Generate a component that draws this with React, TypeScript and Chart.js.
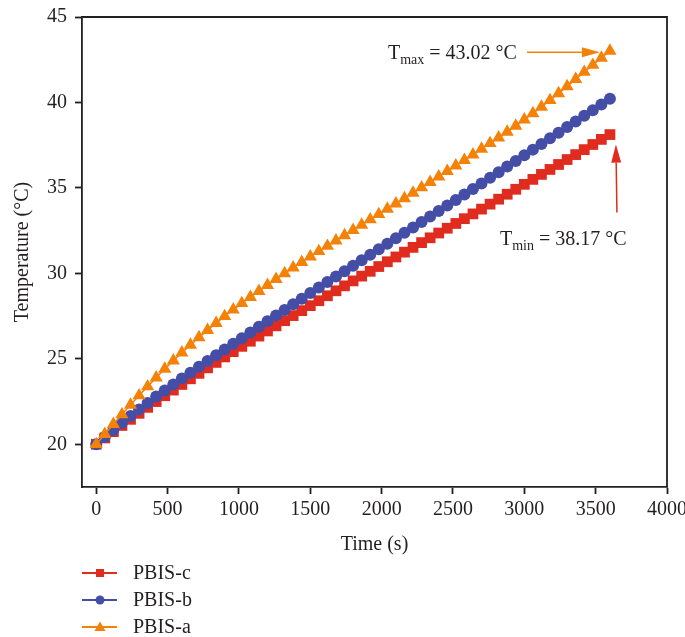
import React, { useEffect, useRef } from "react";
import { Chart, registerables } from "chart.js";

Chart.register(...registerables);

// ---------------- data ----------------
const TIME_S = [
  0, 60, 120, 180, 240, 300, 360, 420, 480, 540, 600, 660, 720, 780, 840, 900, 960, 1020, 1080, 1140,
  1200, 1260, 1320, 1380, 1440, 1500, 1560, 1620, 1680, 1740, 1800, 1860, 1920, 1980, 2040, 2100, 2160,
  2220, 2280, 2340, 2400, 2460, 2520, 2580, 2640, 2700, 2760, 2820, 2880, 2940, 3000, 3060, 3120, 3180,
  3240, 3300, 3360, 3420, 3480, 3540, 3600,
];

const PBIS_C = [
  20.0, 20.37, 20.74, 21.1, 21.46, 21.81, 22.16, 22.5, 22.84, 23.17, 23.5, 23.83, 24.15, 24.47, 24.79,
  25.11, 25.42, 25.73, 26.03, 26.33, 26.63, 26.93, 27.23, 27.53, 27.82, 28.11, 28.4, 28.69, 28.98, 29.27,
  29.56, 29.84, 30.12, 30.4, 30.68, 30.96, 31.24, 31.52, 31.8, 32.08, 32.36, 32.64, 32.92, 33.2, 33.48,
  33.76, 34.05, 34.34, 34.63, 34.92, 35.21, 35.5, 35.79, 36.08, 36.37, 36.66, 36.95, 37.24, 37.54, 37.84,
  38.12,
];

const PBIS_B = [
  20.0, 20.42, 20.84, 21.25, 21.65, 22.04, 22.42, 22.79, 23.15, 23.5, 23.85, 24.19, 24.53, 24.87, 25.21,
  25.55, 25.88, 26.21, 26.54, 26.87, 27.2, 27.53, 27.86, 28.19, 28.52, 28.85, 29.17, 29.49, 29.81, 30.13,
  30.45, 30.77, 31.09, 31.41, 31.73, 32.05, 32.37, 32.69, 33.01, 33.33, 33.65, 33.97, 34.29, 34.61, 34.93,
  35.26, 35.59, 35.92, 36.25, 36.58, 36.91, 37.24, 37.57, 37.9, 38.23, 38.56, 38.89, 39.22, 39.55, 39.88,
  40.21,
];

const PBIS_A = [
  20.0, 20.59, 21.18, 21.74, 22.3, 22.85, 23.38, 23.9, 24.41, 24.89, 25.36, 25.81, 26.25, 26.68, 27.09,
  27.49, 27.88, 28.25, 28.61, 28.96, 29.31, 29.66, 30.0, 30.33, 30.66, 30.98, 31.29, 31.6, 31.91, 32.22,
  32.53, 32.84, 33.15, 33.46, 33.77, 34.08, 34.39, 34.71, 35.02, 35.34, 35.66, 35.98, 36.3, 36.62, 36.95,
  37.28, 37.61, 37.94, 38.28, 38.63, 38.99, 39.36, 39.74, 40.13, 40.53, 40.94, 41.36, 41.78, 42.19, 42.61,
  43.02,
];

const SERIES_LABELS = ["PBIS-c", "PBIS-b", "PBIS-a"];
const X_TICKS = [0, 500, 1000, 1500, 2000, 2500, 3000, 3500, 4000];
const Y_TICKS = [20, 25, 30, 35, 40, 45];
const X_MIN = -100;
const X_MAX = 4000;
const Y_MIN = 17.5;
const Y_MAX = 45;
const X_TITLE = "Time (s)";
const Y_TITLE = "Temperature (°C)";
const T_MAX_PARTS = ["T", "max", " = 43.02 °C"];
const T_MIN_PARTS = ["T", "min", " = 38.17 °C"];

// ---------------- styles ----------------
const FONT = "'Liberation Serif', 'Times New Roman', serif";
const INK = "#231f20";
const RED = "#e02b1f";
const BLUE = "#444ea6";
const ORANGE = "#f58208";

function toPoints(values: number[]) {
  return values.map((v, i) => ({ x: TIME_S[i], y: v }));
}

function drawArrow(ctx: CanvasRenderingContext2D, x1: number, y1: number, x2: number, y2: number, color: string) {
  const ang = Math.atan2(y2 - y1, x2 - x1);
  const headLen = 18;
  const headHalf = 5;
  const bx = x2 - headLen * Math.cos(ang);
  const by = y2 - headLen * Math.sin(ang);
  ctx.save();
  ctx.strokeStyle = color;
  ctx.fillStyle = color;
  ctx.lineWidth = 1.5;
  ctx.beginPath();
  ctx.moveTo(x1, y1);
  ctx.lineTo(bx, by);
  ctx.stroke();
  ctx.beginPath();
  ctx.moveTo(x2, y2);
  ctx.lineTo(bx + headHalf * Math.sin(ang), by - headHalf * Math.cos(ang));
  ctx.lineTo(bx - headHalf * Math.sin(ang), by + headHalf * Math.cos(ang));
  ctx.closePath();
  ctx.fill();
  ctx.restore();
}

function drawSubText(
  ctx: CanvasRenderingContext2D,
  parts: string[],
  x: number,
  y: number,
  align: "left" | "right"
) {
  ctx.save();
  ctx.fillStyle = INK;
  ctx.textBaseline = "alphabetic";
  ctx.textAlign = "left";
  const mainFont = `20px ${FONT}`;
  const subFont = `14px ${FONT}`;
  ctx.font = mainFont;
  const w0 = ctx.measureText(parts[0]).width;
  const w2 = ctx.measureText(parts[2]).width;
  ctx.font = subFont;
  const w1 = ctx.measureText(parts[1]).width;
  const total = w0 + w1 + w2;
  const start = align === "right" ? x - total : x;
  ctx.font = mainFont;
  ctx.fillText(parts[0], start, y);
  ctx.font = subFont;
  ctx.fillText(parts[1], start + w0, y + 5);
  ctx.font = mainFont;
  ctx.fillText(parts[2], start + w0 + w1, y);
  ctx.restore();
}

const framePlugin = {
  id: "frameAndExtras",
  afterDraw(chart: any) {
    const { ctx, chartArea } = chart;
    const { left, right, top, bottom } = chartArea;
    ctx.save();
    ctx.strokeStyle = INK;
    ctx.lineWidth = 1.8;
    ctx.beginPath();
    ctx.moveTo(left, top);
    ctx.lineTo(right, top);
    ctx.lineTo(right, bottom);
    ctx.stroke();
    ctx.restore();

    // annotations
    const metaA = chart.getDatasetMeta(2);
    const lastA = metaA.data[metaA.data.length - 1];
    if (lastA) {
      const px = lastA.x;
      const py = lastA.y;
      drawArrow(ctx, px - 83, py + 1.5, px - 10, py + 1.5, ORANGE);
      drawSubText(ctx, T_MAX_PARTS, px - 93, py + 8, "right");
    }
    const metaC = chart.getDatasetMeta(0);
    const lastC = metaC.data[metaC.data.length - 1];
    if (lastC) {
      const px = lastC.x;
      const py = lastC.y;
      drawArrow(ctx, px + 7, py + 78, px + 6, py + 10, RED);
      drawSubText(ctx, T_MIN_PARTS, px - 110, py + 110, "left");
    }

    // legend
    const datasets = chart.data.datasets;
    datasets.forEach((ds: any, i: number) => {
      const y = bottom + 86 + i * 27;
      const x0 = left;
      ctx.save();
      ctx.strokeStyle = ds.borderColor;
      ctx.fillStyle = ds.borderColor;
      ctx.lineWidth = 2;
      ctx.beginPath();
      ctx.moveTo(x0, y);
      ctx.lineTo(x0 + 35, y);
      ctx.stroke();
      const mx = x0 + 18;
      ctx.beginPath();
      if (ds.pointStyle === "rect") {
        ctx.rect(mx - 4, y - 4, 8, 8);
      } else if (ds.pointStyle === "circle") {
        ctx.arc(mx, y, 4.5, 0, Math.PI * 2);
      } else {
        ctx.moveTo(mx, y - 5.5);
        ctx.lineTo(mx + 5.5, y + 4);
        ctx.lineTo(mx - 5.5, y + 4);
        ctx.closePath();
      }
      ctx.fill();
      ctx.fillStyle = INK;
      ctx.font = `20px ${FONT}`;
      ctx.textBaseline = "middle";
      ctx.textAlign = "left";
      ctx.fillText(ds.label, x0 + 51, y + 1);
      ctx.restore();
    });
  },
};

export default function App() {
  const canvasRef = useRef<HTMLCanvasElement | null>(null);

  useEffect(() => {
    const canvas = canvasRef.current;
    if (!canvas) return;
    const seriesValues = [PBIS_C, PBIS_B, PBIS_A];
    const colors = [RED, BLUE, ORANGE];
    const styles = ["rect", "circle", "triangle"];
    const radii = [7.6, 6.0, 7.6];
    const orders = [3, 2, 1];

    const chart = new Chart(canvas, {
      type: "line",
      data: {
        datasets: SERIES_LABELS.map((label, i) => ({
          label,
          data: toPoints(seriesValues[i]),
          borderColor: colors[i],
          backgroundColor: colors[i],
          pointBackgroundColor: colors[i],
          pointBorderColor: colors[i],
          pointBorderWidth: 0,
          pointStyle: styles[i] as any,
          pointRadius: radii[i],
          borderWidth: 1.5,
          tension: 0,
          order: orders[i],
          clip: false as any,
        })),
      },
      options: {
        responsive: false,
        animation: false,
        events: [],
        layout: { padding: { top: 17, right: 18, bottom: 70, left: 0 } },
        plugins: {
          legend: { display: false },
          tooltip: { enabled: false },
        },
        scales: {
          x: {
            type: "linear",
            min: X_MIN,
            max: X_MAX,
            afterBuildTicks: (scale: any) => {
              scale.ticks = X_TICKS.map((v) => ({ value: v }));
            },
            afterFit: (scale: any) => {
              scale.height = 80;
              scale.paddingLeft = 0;
              scale.paddingRight = 0;
            },
            grid: {
              drawOnChartArea: false,
              drawTicks: true,
              tickLength: 7,
              tickWidth: 1.8,
              tickColor: INK,
            },
            border: { display: true, color: INK, width: 1.8 },
            ticks: {
              color: INK,
              font: { family: FONT, size: 20 },
              padding: 4,
              maxRotation: 0,
              autoSkip: false,
              callback: (v: any) => String(v),
            },
            title: {
              display: true,
              text: X_TITLE,
              color: INK,
              font: { family: FONT, size: 20 },
              padding: { top: 0, bottom: 10 },
            },
          },
          y: {
            type: "linear",
            min: Y_MIN,
            max: Y_MAX,
            afterBuildTicks: (scale: any) => {
              scale.ticks = Y_TICKS.map((v) => ({ value: v }));
            },
            afterFit: (scale: any) => {
              scale.width = 82;
              scale.paddingTop = 0;
              scale.paddingBottom = 0;
            },
            grid: {
              drawOnChartArea: false,
              drawTicks: true,
              tickLength: 7,
              tickWidth: 1.8,
              tickColor: INK,
            },
            border: { display: true, color: INK, width: 1.8 },
            ticks: {
              color: INK,
              font: { family: FONT, size: 20 },
              padding: 8,
              autoSkip: false,
              callback: (v: any) => String(v),
            },
            title: {
              display: true,
              text: Y_TITLE,
              color: INK,
              font: { family: FONT, size: 20 },
              padding: { top: 11, bottom: 0 },
            },
          },
        },
      },
      plugins: [framePlugin],
    });

    return () => chart.destroy();
  }, []);

  return (
    <div style={{ position: "absolute", left: 0, top: 0, width: 685, height: 637, background: "#fff" }}>
      <canvas ref={canvasRef} width={685} height={637} style={{ display: "block" }} />
    </div>
  );
}
